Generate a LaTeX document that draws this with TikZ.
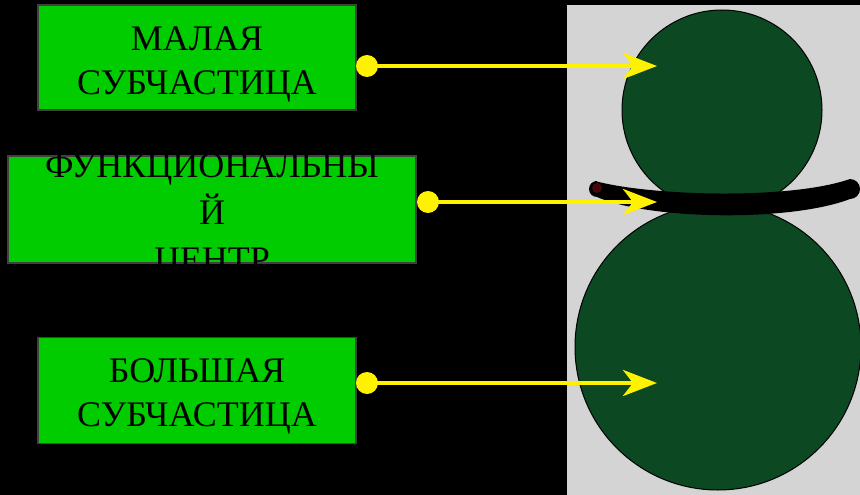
\documentclass[tikz,border=0pt]{standalone}
\usepackage{fontspec}
\setmainfont{Liberation Serif}
\usetikzlibrary{arrows.meta}
\definecolor{boxgreen}{RGB}{0,204,0}
\definecolor{boxedge}{RGB}{64,64,64}
\definecolor{panelgray}{RGB}{212,212,212}
\definecolor{ballgreen}{RGB}{12,72,34}
\definecolor{tipred}{RGB}{70,8,8}
\tikzset{
  greenbox/.style={draw=boxedge, line width=1.5pt, fill=boxgreen, inner sep=0pt},
  boxtext/.style={align=center, text=black, inner sep=0pt, font=\fontsize{36}{44}\selectfont},
  ydot/.style={circle, fill=yellow, minimum size=22pt, inner sep=0pt},
  yarrow/.style={yellow, line width=4.5pt, -{Stealth[length=34pt, width=26pt, inset=10pt]}},
  ball/.style={circle, fill=ballgreen, draw=black, line width=1pt, inner sep=0pt}
}
\begin{document}
\begin{tikzpicture}[x=1pt, y=-1pt]
  \useasboundingbox (0,0) rectangle (860,495);
  \fill[black] (0,0) rectangle (860,495);
  % right panel
  \fill[panelgray] (567,5) rectangle (860,495);
  % balls
  \begin{scope}
    \clip (567,5) rectangle (860,495);
    \node[ball, minimum size=286pt] (big) at (718,347) {};
    \node[ball, minimum size=200pt] (small) at (722,110) {};
    % band
    \fill[black] (595,181) .. controls (650,196) and (790,200) .. (850,179)
      arc[start angle=90, end angle=-90, radius=10pt]
      .. controls (790,222) and (650,220) .. (597,197)
      arc[start angle=-90, end angle=-270, radius=8pt] -- cycle;
    \fill[tipred] (597,188) circle (5pt);
  \end{scope}
  % boxes
  \node[greenbox, minimum width=318pt, minimum height=105pt] (b1) at (197,57.5) {};
  \node[greenbox, minimum width=408pt, minimum height=107pt] (b2) at (212,209.5) {};
  \node[greenbox, minimum width=318pt, minimum height=106pt] (b3) at (197,390.5) {};
  \node[boxtext, yshift=-7pt] (t1) at (b1.center) {МАЛАЯ\\СУБЧАСТИЦА};
  \node[boxtext, yshift=-7pt, font=\fontsize{36}{47}\selectfont] (t2) at (b2.center) {ФУНКЦИОНАЛЬНЫ\\Й\\ЦЕНТР};
  \node[boxtext, yshift=-6pt] (t3) at (b3.center) {БОЛЬШАЯ\\СУБЧАСТИЦА};
  % connectors
  \node[ydot] (d1) at (367,66) {};
  \node[ydot] (d2) at (428,202) {};
  \node[ydot] (d3) at (367,383) {};
  \coordinate (a1) at (657,66);
  \coordinate (a2) at (657,202);
  \coordinate (a3) at (657,383);
  \draw[yarrow] (d1.center) -- (a1);
  \draw[yarrow] (d2.center) -- (a2);
  \draw[yarrow] (d3.center) -- (a3);
\end{tikzpicture}
\end{document}
